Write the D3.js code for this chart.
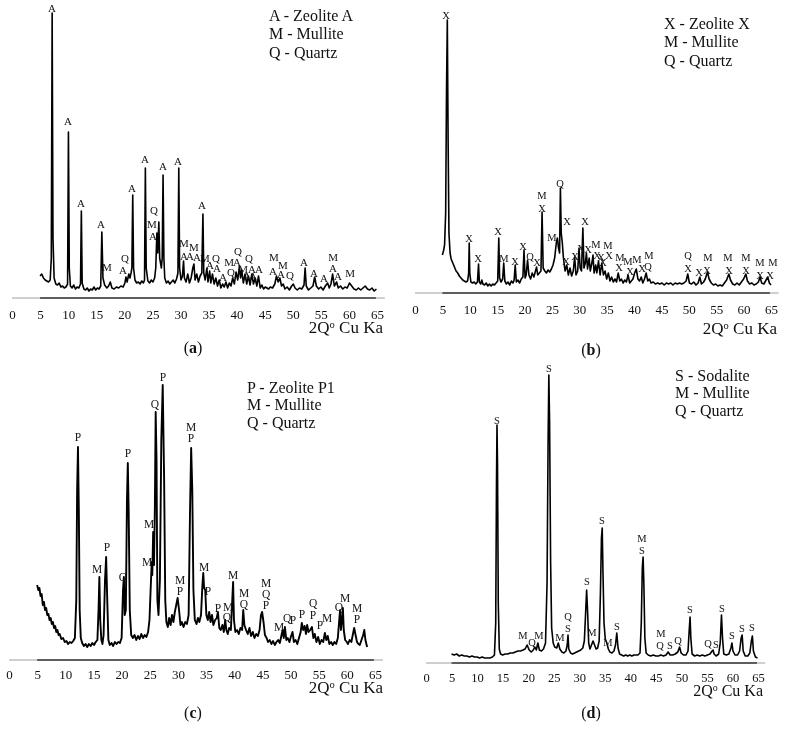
<!DOCTYPE html>
<html><head><meta charset="utf-8">
<script src="https://cdn.jsdelivr.net/npm/d3@7"></script>
<style>
html,body{margin:0;padding:0;background:#fff;}
svg{display:block;will-change:transform;}
text{font-family:"Liberation Serif","Times New Roman",serif;fill:#111;}
</style></head>
<body><svg id="chart" width="787" height="730"></svg>
<script>
// ---------- DATA ----------
const tickLabels = [0,5,10,15,20,25,30,35,40,45,50,55,60,65];
const axisTitle = ["2Q", "o", " Cu Ka"];

// [2theta, relative intensity]
const traceA = [[5.0,22],[5.3,24],[5.6,20],[5.9,18],[6.2,17],[6.5,16],[6.8,18],[7.0,40],[7.15,285],[7.3,60],[7.5,20],[7.8,14],[8.1,13],[8.4,15],[8.7,11],[9.0,12],[9.3,10],[9.6,11],[9.9,14],[10.05,166],[10.2,30],[10.4,12],[10.7,10],[11.0,13],[11.3,9],[11.6,11],[11.9,10],[12.2,14],[12.35,87],[12.5,15],[12.8,9],[13.1,8],[13.4,10],[13.7,7],[14.0,9],[14.3,8],[14.6,11],[14.9,8],[15.2,10],[15.5,9],[15.8,12],[16.0,66],[16.2,20],[16.5,13],[16.9,10],[17.2,12],[17.5,16],[17.8,10],[18.2,9],[18.6,11],[19.0,10],[19.4,12],[19.8,11],[20.1,15],[20.3,21],[20.5,16],[20.8,24],[21.0,20],[21.2,25],[21.35,30],[21.5,103],[21.65,30],[21.9,18],[22.2,15],[22.5,16],[22.8,14],[23.1,17],[23.4,15],[23.6,18],[23.75,130],[23.9,30],[24.2,17],[24.5,15],[24.8,18],[25.1,16],[25.4,20],[25.6,30],[25.8,65],[25.95,45],[26.15,76],[26.3,40],[26.45,35],[26.6,30],[26.75,40],[26.9,123],[27.05,40],[27.2,20],[27.5,15],[27.8,17],[28.1,14],[28.4,16],[28.7,18],[29.0,15],[29.3,19],[29.55,25],[29.7,130],[29.85,30],[30.1,18],[30.35,22],[30.55,37],[30.7,20],[31.0,16],[31.3,24],[31.6,15],[31.9,20],[32.2,30],[32.4,34],[32.6,18],[32.9,24],[33.2,16],[33.5,22],[33.8,25],[34.0,84],[34.15,25],[34.4,18],[34.7,30],[34.9,16],[35.2,27],[35.4,15],[35.7,24],[36.0,14],[36.3,20],[36.6,12],[36.9,18],[37.2,10],[37.5,14],[37.8,11],[38.1,16],[38.4,10],[38.7,15],[39.0,12],[39.3,20],[39.6,14],[39.9,26],[40.2,18],[40.5,32],[40.7,20],[40.9,28],[41.2,15],[41.5,24],[41.8,14],[42.1,22],[42.4,13],[42.7,24],[43.0,14],[43.3,20],[43.6,12],[43.9,22],[44.2,10],[44.5,13],[44.8,9],[45.1,11],[45.4,10],[45.7,9],[46.0,11],[46.4,10],[46.8,14],[47.1,22],[47.4,16],[47.7,20],[48.0,12],[48.3,14],[48.6,9],[49.0,11],[49.4,8],[49.8,12],[50.1,14],[50.4,10],[50.8,8],[51.2,10],[51.6,9],[52.0,13],[52.2,30],[52.4,12],[52.8,8],[53.2,10],[53.6,12],[53.9,21],[54.2,12],[54.6,9],[55.0,11],[55.4,8],[55.8,12],[56.2,15],[56.5,10],[56.8,14],[57.1,24],[57.4,12],[57.8,16],[58.1,10],[58.5,12],[58.9,9],[59.3,11],[59.7,10],[60.1,15],[60.5,12],[60.9,9],[61.3,8],[61.7,10],[62.1,8],[62.5,10],[62.9,12],[63.3,9],[63.7,8],[64.1,10],[64.5,7],[64.9,9]];

const traceB = [[5.0,38],[5.2,42],[5.4,48],[5.6,80],[5.75,200],[5.9,273],[6.05,150],[6.2,60],[6.4,40],[6.6,34],[6.9,30],[7.2,26],[7.5,22],[7.8,20],[8.1,17],[8.4,15],[8.7,13],[9.0,12],[9.3,11],[9.6,12],[9.8,20],[9.9,50],[10.0,20],[10.2,11],[10.5,10],[10.8,11],[11.1,9],[11.4,11],[11.6,29],[11.75,11],[12.0,9],[12.2,13],[12.4,9],[12.7,8],[13.0,10],[13.3,7],[13.6,9],[13.9,7],[14.2,9],[14.5,8],[14.8,10],[15.1,12],[15.3,55],[15.45,15],[15.7,11],[16.0,14],[16.2,30],[16.4,12],[16.7,9],[17.0,11],[17.3,8],[17.6,12],[17.9,10],[18.1,13],[18.3,28],[18.5,11],[18.8,13],[19.1,10],[19.4,14],[19.7,16],[19.9,43],[20.1,15],[20.3,18],[20.55,33],[20.8,18],[21.1,14],[21.4,20],[21.7,16],[22.0,22],[22.2,26],[22.4,18],[22.7,20],[23.0,22],[23.2,81],[23.4,25],[23.7,22],[24.0,20],[24.3,23],[24.6,21],[24.9,24],[25.2,28],[25.5,35],[25.8,50],[26.0,55],[26.2,45],[26.4,40],[26.55,105],[26.7,60],[26.9,50],[27.1,35],[27.4,22],[27.7,28],[28.0,18],[28.3,25],[28.6,17],[28.9,22],[29.15,36],[29.4,18],[29.7,22],[29.95,45],[30.15,25],[30.4,22],[30.65,65],[30.85,25],[31.1,30],[31.3,40],[31.5,24],[31.8,35],[32.0,22],[32.3,30],[32.5,38],[32.7,20],[33.0,28],[33.2,20],[33.5,32],[33.8,18],[34.1,30],[34.4,18],[34.7,22],[35.0,14],[35.3,20],[35.6,12],[35.9,16],[36.2,11],[36.5,14],[36.8,11],[37.1,20],[37.4,12],[37.7,14],[38.0,10],[38.3,13],[38.6,11],[38.9,18],[39.2,10],[39.5,12],[39.8,14],[40.1,20],[40.4,24],[40.7,14],[41.0,12],[41.3,16],[41.6,10],[41.9,14],[42.2,20],[42.5,12],[42.8,14],[43.1,10],[43.5,11],[43.9,9],[44.3,10],[44.7,9],[45.1,10],[45.5,8],[45.9,10],[46.3,9],[46.7,10],[47.1,8],[47.5,10],[47.9,9],[48.3,10],[48.7,9],[49.1,10],[49.5,12],[49.8,19],[50.1,10],[50.5,9],[50.9,11],[51.3,8],[51.7,10],[52.0,16],[52.3,9],[52.7,11],[53.0,14],[53.4,21],[53.7,14],[54.1,10],[54.5,8],[54.9,9],[55.3,7],[55.7,8],[56.1,7],[56.5,10],[56.9,13],[57.3,19],[57.6,13],[58.0,9],[58.4,8],[58.8,10],[59.2,8],[59.6,11],[60.0,14],[60.4,19],[60.7,12],[61.1,9],[61.5,10],[61.9,8],[62.3,9],[62.7,11],[63.0,16],[63.3,10],[63.7,9],[64.0,12],[64.4,16],[64.7,10],[65.0,8]];

const traceC = [[5.0,75],[5.2,70],[5.4,72],[5.6,64],[5.8,66],[6.0,55],[6.2,58],[6.4,50],[6.6,52],[6.8,45],[7.0,46],[7.2,40],[7.4,42],[7.6,36],[7.8,38],[8.0,32],[8.2,34],[8.4,28],[8.6,30],[8.8,25],[9.0,26],[9.3,21],[9.6,22],[9.9,18],[10.2,19],[10.5,16],[10.8,18],[11.1,17],[11.4,19],[11.7,22],[11.95,60],[12.1,170],[12.25,213],[12.4,150],[12.55,50],[12.75,22],[13.0,17],[13.3,14],[13.6,16],[13.9,13],[14.2,16],[14.5,14],[14.8,17],[15.1,15],[15.4,18],[15.7,20],[15.9,50],[16.05,83],[16.2,40],[16.4,20],[16.6,16],[16.8,25],[17.05,80],[17.25,103],[17.45,60],[17.65,20],[17.9,15],[18.2,17],[18.5,14],[18.8,18],[19.1,16],[19.4,18],[19.7,17],[20.0,22],[20.25,70],[20.4,83],[20.55,45],[20.75,50],[20.95,160],[21.1,197],[21.25,150],[21.45,50],[21.7,25],[22.0,22],[22.3,25],[22.6,20],[22.9,24],[23.2,21],[23.5,26],[23.8,22],[24.1,25],[24.4,23],[24.7,28],[24.95,40],[25.15,70],[25.35,98],[25.45,85],[25.6,128],[25.75,95],[25.9,150],[26.05,248],[26.2,200],[26.35,60],[26.55,45],[26.8,80],[27.05,220],[27.3,275],[27.55,180],[27.75,60],[27.95,38],[28.2,33],[28.45,42],[28.7,35],[28.95,45],[29.2,38],[29.45,48],[29.7,55],[29.95,62],[30.2,50],[30.45,35],[30.7,38],[31.0,33],[31.3,38],[31.6,36],[31.9,45],[32.15,150],[32.35,212],[32.55,170],[32.75,70],[33.0,40],[33.3,36],[33.55,42],[33.8,38],[34.1,45],[34.35,75],[34.5,87],[34.65,72],[34.85,70],[35.05,45],[35.3,40],[35.55,48],[35.8,38],[36.05,45],[36.3,35],[36.6,40],[36.9,42],[37.1,48],[37.35,32],[37.6,30],[37.9,35],[38.15,28],[38.4,40],[38.6,30],[38.85,26],[39.1,32],[39.4,30],[39.65,60],[39.8,78],[39.95,40],[40.2,28],[40.5,30],[40.8,26],[41.1,32],[41.4,30],[41.6,50],[41.8,35],[42.1,30],[42.4,26],[42.7,32],[43.0,24],[43.3,28],[43.6,22],[43.9,26],[44.2,24],[44.5,30],[44.75,45],[44.95,48],[45.2,38],[45.45,25],[45.75,22],[46.0,18],[46.3,20],[46.6,16],[46.9,19],[47.2,15],[47.5,18],[47.8,20],[48.1,17],[48.4,25],[48.6,30],[48.8,22],[49.0,33],[49.25,20],[49.5,22],[49.8,18],[50.1,24],[50.35,28],[50.6,18],[50.9,20],[51.2,16],[51.5,22],[51.8,28],[52.0,37],[52.25,30],[52.5,34],[52.75,26],[52.95,35],[53.2,28],[53.5,30],[53.8,33],[54.05,22],[54.3,26],[54.6,18],[54.9,23],[55.2,16],[55.5,20],[55.8,18],[56.1,27],[56.35,20],[56.6,24],[56.9,16],[57.2,18],[57.5,15],[57.8,18],[58.1,16],[58.4,22],[58.65,40],[58.8,50],[58.95,30],[59.15,40],[59.3,52],[59.45,30],[59.7,20],[60.0,18],[60.2,16],[60.5,20],[60.8,18],[61.05,25],[61.3,32],[61.55,25],[61.8,18],[62.05,16],[62.3,15],[62.6,20],[62.9,25],[63.1,30],[63.3,20],[63.6,13]];

const traceD = [[5.0,9],[5.5,8],[6.0,9],[6.5,7],[7.0,8],[7.5,7],[8.0,7],[8.5,6],[9.0,7],[9.5,6],[10.0,6],[10.5,5],[11.0,6],[11.5,5],[12.0,5],[12.5,5],[13.0,6],[13.4,8],[13.65,40],[13.8,180],[13.9,238],[14.0,200],[14.15,60],[14.35,14],[14.6,9],[15.0,8],[15.5,9],[16.0,9],[16.5,10],[17.0,10],[17.5,11],[18.0,12],[18.5,12],[19.0,13],[19.4,14],[19.8,18],[20.2,13],[20.6,11],[21.0,13],[21.3,16],[21.6,13],[21.9,20],[22.2,13],[22.6,12],[23.0,14],[23.4,20],[23.7,80],[23.9,220],[24.05,288],[24.2,240],[24.4,100],[24.6,35],[24.9,20],[25.2,16],[25.6,15],[25.9,20],[26.2,14],[26.6,11],[27.0,10],[27.4,12],[27.65,18],[27.8,28],[27.95,14],[28.3,10],[28.7,9],[29.1,10],[29.5,11],[29.9,12],[30.3,13],[30.7,15],[31.0,22],[31.25,50],[31.45,73],[31.65,50],[31.85,20],[32.1,14],[32.4,18],[32.7,22],[33.0,18],[33.3,14],[33.6,15],[33.9,22],[34.15,70],[34.35,125],[34.5,135],[34.65,90],[34.85,40],[35.1,24],[35.4,20],[35.7,14],[36.0,11],[36.4,10],[36.8,12],[37.1,18],[37.35,30],[37.6,15],[37.9,9],[38.3,8],[38.7,7],[39.1,8],[39.5,7],[39.9,8],[40.3,7],[40.7,8],[41.1,8],[41.5,8],[41.9,10],[42.15,40],[42.35,95],[42.5,106],[42.65,80],[42.85,25],[43.1,10],[43.5,8],[44.0,7],[44.5,8],[45.0,7],[45.5,7],[46.0,8],[46.5,7],[47.0,8],[47.4,11],[47.8,8],[48.3,8],[48.8,9],[49.3,11],[49.65,16],[49.95,10],[50.4,8],[50.9,8],[51.3,12],[51.5,30],[51.7,46],[51.85,25],[52.1,9],[52.6,7],[53.1,8],[53.6,7],[54.1,8],[54.6,7],[55.1,8],[55.6,9],[56.0,12],[56.2,13],[56.4,9],[56.8,7],[57.3,9],[57.6,20],[57.85,48],[58.05,25],[58.3,9],[58.8,8],[59.3,9],[59.7,15],[59.9,20],[60.1,12],[60.5,8],[61.0,8],[61.4,12],[61.7,25],[61.9,28],[62.1,12],[62.5,7],[63.0,7],[63.4,10],[63.7,22],[63.9,27],[64.1,12],[64.5,6],[64.9,5]];

// peak labels: [2theta, intensity level, phase letter]
const labelsA = [[7.12,290,"A"],[9.97,177,"A"],[12.29,95,"A"],[15.85,74,"A"],[16.92,31,"M"],[20.12,40,"Q"],[19.77,28,"A"],[21.37,110,"A"],[23.69,139,"A"],[25.29,88,"Q"],[24.93,74,"M"],[25.11,62,"A"],[26.89,132,"A"],[29.56,137,"A"],[30.63,55,"M"],[30.63,42,"A"],[32.41,51,"M"],[31.7,42,"A"],[32.95,41,"A"],[33.84,93,"A"],[34.37,40,"M"],[35.26,33,"A"],[36.33,40,"Q"],[36.51,30,"A"],[37.58,21,"A"],[39.0,26,"Q"],[38.65,36,"M"],[40.07,36,"A"],[40.25,47,"Q"],[41.14,29,"M"],[41.85,22,"A"],[42.21,40,"Q"],[42.74,29,"A"],[42.92,22,"A"],[43.99,29,"A"],[46.66,41,"M"],[48.26,33,"M"],[46.48,27,"A"],[47.91,24,"A"],[49.51,23,"Q"],[52.0,36,"A"],[53.78,25,"A"],[55.57,20,"A"],[57.17,41,"M"],[57.17,30,"A"],[58.06,22,"A"],[60.2,25,"M"]];
const labelsB = [[5.66,278,"X"],[9.86,55,"X"],[11.5,35,"X"],[15.15,62,"X"],[16.25,35,"M"],[18.26,32,"X"],[19.72,47,"X"],[21.0,37,"Q"],[22.27,31,"X"],[23.19,98,"M"],[23.19,85,"X"],[25.01,56,"M"],[26.47,110,"Q"],[27.75,72,"X"],[27.57,32,"X"],[29.21,37,"X"],[30.31,45,"X"],[31.04,72,"X"],[31.59,44,"X"],[33.05,49,"M"],[33.23,38,"X"],[33.96,36,"X"],[34.33,31,"X"],[35.24,48,"M"],[35.42,38,"X"],[37.43,36,"M"],[37.25,26,"X"],[38.89,32,"M"],[39.25,22,"X"],[40.53,34,"M"],[41.45,25,"X"],[42.72,38,"M"],[42.54,27,"Q"],[49.84,38,"Q"],[49.84,25,"X"],[51.85,21,"X"],[53.5,36,"M"],[53.31,23,"X"],[57.15,36,"M"],[57.33,23,"X"],[60.43,36,"M"],[60.43,23,"X"],[62.99,31,"M"],[62.99,18,"X"],[65.36,31,"M"],[64.82,18,"X"]];
const labelsC = [[12.26,223,"P"],[21.14,207,"P"],[25.93,256,"Q"],[27.35,283,"P"],[32.33,233,"M"],[32.33,222,"P"],[15.63,91,"M"],[17.41,113,"P"],[20.25,83,"Q"],[24.87,136,"M"],[24.51,98,"M"],[30.37,80,"M"],[30.37,69,"P"],[34.64,93,"M"],[35.35,69,"P"],[37.12,52,"P"],[38.9,53,"M"],[38.72,43,"Q"],[39.79,85,"M"],[41.74,67,"M"],[41.74,56,"Q"],[45.65,77,"M"],[45.65,66,"Q"],[45.65,55,"P"],[47.96,33,"M"],[49.38,42,"Q"],[50.44,40,"P"],[52.04,46,"P"],[54.0,57,"Q"],[54.0,45,"P"],[55.24,35,"P"],[56.48,42,"M"],[58.61,53,"Q"],[59.68,62,"M"],[61.81,52,"M"],[61.81,41,"P"]];
const labelsD = [[13.9,243,"S"],[24.08,295,"S"],[31.52,82,"S"],[27.8,47,"Q"],[27.8,35,"S"],[18.99,28,"M"],[20.75,21,"Q"],[22.12,28,"M"],[26.23,26,"M"],[32.5,31,"M"],[34.46,143,"S"],[42.29,125,"M"],[42.29,113,"S"],[35.63,21,"M"],[37.39,37,"S"],[46.0,30,"M"],[45.81,18,"Q"],[47.77,18,"S"],[49.33,23,"Q"],[51.68,54,"S"],[55.21,20,"Q"],[56.77,19,"S"],[57.95,55,"S"],[59.91,28,"S"],[61.86,35,"S"],[63.82,36,"S"]];

const legendA = ["A - Zeolite A", "M - Mullite", "Q - Quartz"];
const legendB = ["X - Zeolite X", "M - Mullite", "Q - Quartz"];
const legendC = ["P - Zeolite P1", "M - Mullite", "Q - Quartz"];
const legendD = ["S - Sodalite", "M - Mullite", "Q - Quartz"];
const captions = ["a", "b", "c", "d"];

// ---------- LAYOUT ----------
const panels = [
  {trace:traceA, labels:labelsA, legend:legendA, cap:captions[0], x0:12, x1:377, axisY:298, tickPad:12, titleX:383, titleY:327, titleSize:17, legX:269, legY:15, legDy:18.5, capX:193, capY:347, lblSize:11, tickSize:13, stroke:1.6},
  {trace:traceB, labels:labelsB, legend:legendB, cap:captions[1], x0:415, x1:771, axisY:293, tickPad:12, titleX:777, titleY:328, titleSize:17, legX:664, legY:23, legDy:18.5, capX:591, capY:349, lblSize:10.5, tickSize:13, stroke:1.6},
  {trace:traceC, labels:labelsC, legend:legendC, cap:captions[2], x0:9, x1:375, axisY:660, tickPad:10, titleX:383, titleY:687, titleSize:17, legX:247, legY:387, legDy:17.5, capX:193, capY:712, lblSize:11.5, tickSize:13, stroke:1.9},
  {trace:traceD, labels:labelsD, legend:legendD, cap:captions[3], x0:426, x1:758, axisY:663, tickPad:10, titleX:763, titleY:690, titleSize:16, legX:675, legY:375, legDy:17.5, capX:591, capY:712, lblSize:10.5, tickSize:12.5, stroke:1.6}
];

const FONT = '"Liberation Serif","Times New Roman",serif';
const svg = d3.select("#chart").style("font-family", FONT);

panels.forEach(p => {
  const g = svg.append("g");
  const x = d3.scaleLinear().domain([0, 65]).range([p.x0, p.x1]);
  const y = d3.scaleLinear().domain([0, 300]).range([p.axisY, p.axisY - 300]);

  // axis base line (light outer + dark inner)
  g.append("line").attr("x1", x(0)).attr("x2", x(66.4)).attr("y1", p.axisY).attr("y2", p.axisY)
    .attr("stroke", "#cfcfcf").attr("stroke-width", 2);
  g.append("line").attr("x1", x(5)).attr("x2", x(64.8)).attr("y1", p.axisY).attr("y2", p.axisY)
    .attr("stroke", "#5e5e5e").attr("stroke-width", 2);

  // tick labels through d3 axis
  const ax = g.append("g").attr("transform", `translate(0,${p.axisY})`)
    .call(d3.axisBottom(x).tickValues(tickLabels).tickSize(0).tickPadding(p.tickPad).tickFormat(d3.format("d")));
  ax.attr("font-family", null);
  ax.select(".domain").remove();
  ax.selectAll("text").style("font-family", FONT)
    .style("font-size", p.tickSize + "px").attr("fill", "#111");

  // axis title
  const t = g.append("text").attr("x", p.titleX).attr("y", p.titleY).attr("dy", "0.35em")
    .attr("text-anchor", "end").style("font-size", p.titleSize + "px");
  t.append("tspan").text(axisTitle[0]);
  t.append("tspan").attr("dy", "-0.45em").style("font-size", "0.62em").text(axisTitle[1]);
  t.append("tspan").attr("dy", "0.28em").text(axisTitle[2]);

  // trace
  const line = d3.line().x(d => x(d[0])).y(d => y(d[1]));
  g.append("path").datum(p.trace).attr("d", line).attr("fill", "none")
    .attr("stroke", "#000").attr("stroke-width", p.stroke).attr("stroke-linejoin", "round");

  // peak labels
  g.selectAll("text.pk").data(p.labels).enter().append("text").attr("class", "pk")
    .attr("x", d => x(d[0])).attr("y", d => y(d[1])).attr("dy", "0.35em")
    .attr("text-anchor", "middle").style("font-size", p.lblSize + "px").text(d => d[2]);

  // legend
  g.selectAll("text.lg").data(p.legend).enter().append("text").attr("class", "lg")
    .attr("x", p.legX).attr("y", (d, i) => p.legY + i * p.legDy).attr("dy", "0.35em")
    .style("font-size", "16px").text(d => d);

  // caption
  const c = g.append("text").attr("x", p.capX).attr("y", p.capY).attr("dy", "0.35em")
    .attr("text-anchor", "middle").style("font-size", "16px");
  c.append("tspan").text("(");
  c.append("tspan").style("font-weight", "bold").text(p.cap);
  c.append("tspan").text(")");
});
</script></body></html>
